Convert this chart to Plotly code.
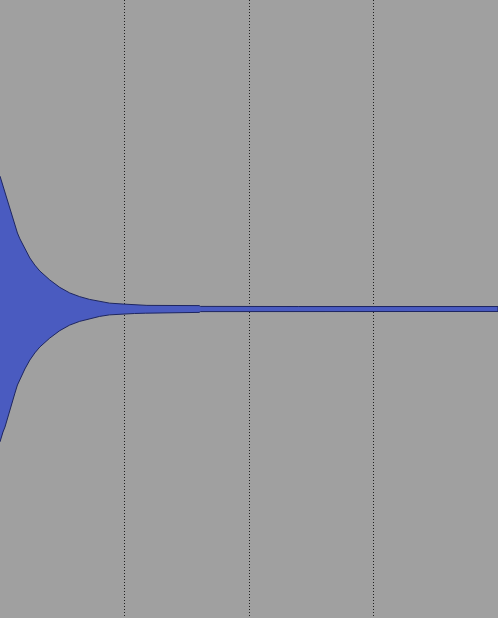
import plotly.graph_objects as go

# Envelope of the decaying waveform (time in grid units, amplitude in [-1, 1])
env_time = [0.0, 0.024, 0.04, 0.064, 0.08, 0.1, 0.12, 0.14, 0.16, 0.2, 0.24, 0.28, 0.32,
            0.4, 0.48, 0.56, 0.64, 0.72, 0.8, 0.88, 0.99, 1.08, 1.17, 1.18, 1.6, 1.61,
            2.4, 3.2, 4.0]
env_upper = [0.43, 0.398, 0.382, 0.35, 0.33, 0.301, 0.272, 0.246, 0.227, 0.194, 0.165,
             0.142, 0.123, 0.094, 0.07, 0.052, 0.04, 0.031, 0.024, 0.019, 0.016,
             0.0146, 0.0136, 0.0117, 0.011, 0.0084, 0.008, 0.008, 0.008]
env_lower = [-v for v in env_upper]
grid_ticks = [1, 2, 3]

xs = env_time + env_time[::-1]
ys = env_upper + env_lower[::-1]

fig = go.Figure()
fig.add_trace(go.Scatter(
    x=xs, y=ys, mode="lines", fill="toself",
    fillcolor="#4a5bc0", line=dict(color="#1e2660", width=1),
    hoverinfo="skip", showlegend=False,
))

fig.update_layout(
    width=498, height=618,
    margin=dict(l=0, r=0, t=0, b=0),
    paper_bgcolor="#a0a0a0", plot_bgcolor="#a0a0a0",
    showlegend=False,
)
fig.update_xaxes(range=[0, 4.0], tickvals=grid_ticks, showticklabels=False,
                 showgrid=True, gridcolor="#202020", gridwidth=1, griddash="1px,2px",
                 zeroline=False, showline=False, ticks="")
fig.update_yaxes(range=[-1, 1], showgrid=False, showticklabels=False,
                 zeroline=False, showline=False, ticks="")

fig.write_html(
    "out.html",
    config={"displayModeBar": False},
    post_script="document.body.style.margin='0';document.body.style.overflow='hidden';",
)
